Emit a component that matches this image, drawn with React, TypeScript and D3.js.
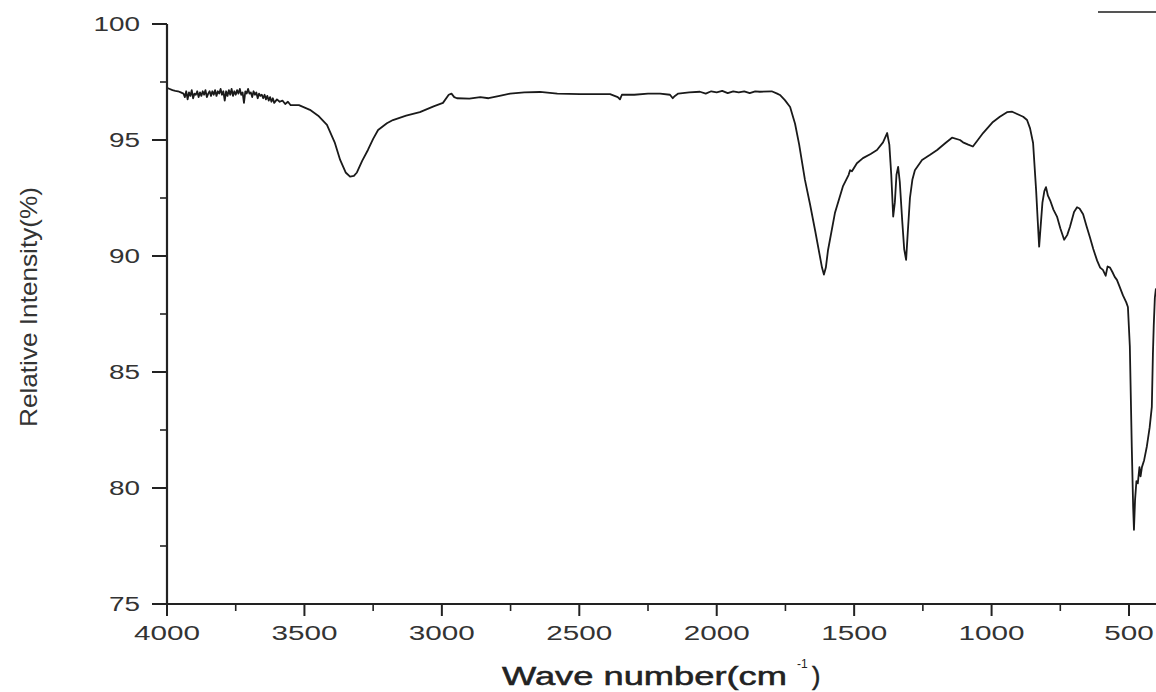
import React from "react";
import * as d3 from "d3";

// ---- data ----
const wavenumbers: number[] = [
  4000, 3990, 3980, 3970, 3960, 3950, 3940, 3935, 3930, 3925, 3920, 3915, 3910, 3905, 3900, 3895,
  3890, 3885, 3880, 3875, 3870, 3865, 3860, 3855, 3850, 3845, 3840, 3835, 3830, 3825, 3820, 3815,
  3810, 3805, 3800, 3795, 3790, 3785, 3780, 3775, 3770, 3765, 3760, 3755, 3750, 3745, 3740, 3735,
  3730, 3725, 3720, 3715, 3710, 3705, 3700, 3695, 3690, 3685, 3680, 3675, 3670, 3665, 3660, 3655,
  3650, 3645, 3640, 3635, 3630, 3625, 3620, 3615, 3610, 3600, 3590, 3580, 3570, 3560, 3550, 3520,
  3480, 3450, 3418, 3390, 3370, 3350, 3334, 3320, 3309, 3290, 3269, 3250, 3232, 3200, 3178, 3130,
  3080, 3030, 2996, 2975, 2965, 2955, 2945, 2900, 2860, 2830, 2790, 2752, 2700, 2643, 2580, 2497,
  2440, 2388, 2360, 2352, 2345, 2300, 2250, 2206, 2170, 2160, 2152, 2140, 2100, 2061, 2040, 2020,
  2000, 1980, 1960, 1940, 1920, 1900, 1880, 1860, 1843, 1800, 1780, 1770, 1752, 1733, 1715, 1700,
  1679, 1660, 1642, 1617, 1610, 1603, 1595, 1570, 1541, 1520, 1515, 1508, 1490, 1468, 1440, 1417,
  1395, 1380, 1372, 1365, 1358, 1352, 1346, 1340, 1334, 1325, 1318, 1311, 1305, 1297, 1288, 1279,
  1253, 1225, 1198, 1170, 1144, 1115, 1104, 1085, 1068, 1050, 1031, 995, 970, 944, 925, 907,
  885, 871, 860, 849, 838, 832, 827, 822, 815, 808, 802, 795, 787, 775, 762, 750,
  736, 725, 715, 700, 689, 680, 667, 655, 642, 630, 616, 605, 595, 585, 578, 569,
  560, 552, 544, 535, 522, 510, 504, 497, 490, 485, 482, 478, 473, 468, 462, 458,
  453, 445, 435, 425, 417, 413, 410, 406, 402,
];
const intensity: number[] = [
  97.25, 97.2, 97.15, 97.12, 97.1, 97.05, 97.0, 96.85, 97.1, 96.75, 97.05, 96.9, 97.15, 96.8, 97.0, 96.95,
  97.1, 96.85, 97.05, 96.9, 97.1, 96.95, 97.15, 96.85, 97.0, 97.1, 96.9, 97.1, 96.95, 97.15, 96.9, 97.1,
  97.0, 97.2, 96.95, 97.1, 96.7, 97.1, 96.9, 97.15, 96.95, 97.2, 96.9, 97.1, 96.95, 97.15, 97.0, 97.2,
  96.95, 97.05, 96.6, 97.1, 97.0, 97.2, 97.0, 97.05, 96.85, 97.1, 96.95, 97.05, 96.8, 97.0, 96.9, 96.95,
  96.8, 96.95, 96.75, 96.9, 96.7, 96.85, 96.65, 96.8, 96.6, 96.75, 96.65, 96.7, 96.55, 96.65, 96.5, 96.5,
  96.3, 96.05, 95.65, 94.9, 94.14, 93.6, 93.42, 93.45, 93.6, 94.1, 94.57, 95.05, 95.43, 95.72, 95.86, 96.05,
  96.2, 96.45, 96.6, 96.95, 97.0, 96.85, 96.8, 96.78, 96.85, 96.8, 96.9, 97.0, 97.05, 97.07, 97.0, 96.98,
  96.98, 96.98, 96.85, 96.75, 96.95, 96.95, 97.0, 97.0, 96.95, 96.8, 96.9, 97.0, 97.05, 97.08, 97.0, 97.1,
  97.05, 97.12, 97.02, 97.1, 97.05, 97.1, 97.02, 97.1, 97.08, 97.1, 97.0, 96.94, 96.72, 96.42, 95.7, 94.8,
  93.28, 92.2, 91.1, 89.5, 89.2, 89.5, 90.26, 91.85, 93.0, 93.5, 93.7, 93.65, 94.0, 94.22, 94.4, 94.57,
  94.9, 95.3, 94.8, 93.5, 91.7, 92.3, 93.5, 93.84, 93.2, 91.5, 90.3, 89.83, 91.0, 92.5, 93.3, 93.7,
  94.14, 94.35, 94.57, 94.85, 95.1, 95.0, 94.9, 94.8, 94.72, 95.0, 95.3, 95.78, 96.0, 96.2, 96.22, 96.12,
  96.0, 95.86, 95.5, 94.87, 92.84, 91.5, 90.4, 91.2, 92.3, 92.8, 92.97, 92.6, 92.4, 92.0, 91.7, 91.2,
  90.7, 90.9, 91.25, 91.9, 92.1, 92.05, 91.8, 91.3, 90.8, 90.3, 89.8, 89.5, 89.4, 89.15, 89.55, 89.5,
  89.3, 89.1, 88.97, 88.7, 88.3, 88.0, 87.8, 86.1, 81.8, 79.2, 78.2, 79.5, 80.3, 80.2, 80.9, 80.5,
  80.9, 81.2, 81.8, 82.6, 83.5, 85.8, 87.0, 88.2, 88.6,
];
const xTickValues: number[] = [4000, 3500, 3000, 2500, 2000, 1500, 1000, 500];
const xMinorTickValues: number[] = [3750, 3250, 2750, 2250, 1750, 1250, 750];
const yTickValues: number[] = [75, 80, 85, 90, 95, 100];
const yMinorTickValues: number[] = [77.5, 82.5, 87.5, 92.5, 97.5];
const xAxisTitle = "Wave number(cm";
const xAxisSup = "-1";
const yAxisTitle = "Relative Intensity(%)";

export default function App() {
  const W = 1156;
  const H = 692;
  const x = d3.scaleLinear().domain([4000, 400]).range([167, 1156.5]);
  const y = d3.scaleLinear().domain([75, 100]).range([604, 24]);
  const pts: [number, number][] = wavenumbers.map((w, i) => [w, intensity[i]]);
  const line = d3
    .line<[number, number]>()
    .x((d) => x(d[0]))
    .y((d) => y(d[1]))
    .curve(d3.curveLinear);
  const axisColor = "#222";
  const textColor = "#333";
  const font = "'Liberation Sans', Arial, sans-serif";

  return (
    <svg
      width={W}
      height={H}
      style={{ position: "absolute", left: 0, top: 0, background: "#fff" }}
    >
      <rect x={0} y={0} width={W} height={H} fill="#fff" />
      <defs>
        <clipPath id="plotclip">
          <rect x={167} y={0} width={W - 167} height={604} />
        </clipPath>
      </defs>
      {/* top-right legend stub */}
      <line x1={1098} y1={12} x2={W} y2={12} stroke="#555" strokeWidth={2} />

      {/* spectrum */}
      <path
        d={line(pts) || ""}
        fill="none"
        stroke="#1a1a1a"
        strokeWidth={1.8}
        strokeLinejoin="round"
        clipPath="url(#plotclip)"
      />

      {/* y axis */}
      <line x1={167} y1={y(100)} x2={167} y2={y(75) + 1} stroke={axisColor} strokeWidth={2.2} />
      {yTickValues.map((v) => (
        <g key={"yt" + v}>
          <line x1={152} x2={167} y1={y(v)} y2={y(v)} stroke={axisColor} strokeWidth={2} />
          <text
            x={140}
            y={y(v) + 7}
            textAnchor="end"
            fontFamily={font}
            fontSize={20}
            fill={textColor}
            textLength={String(v).length * 15.5}
            lengthAdjust="spacingAndGlyphs"
          >
            {v}
          </text>
        </g>
      ))}
      {yMinorTickValues.map((v) => (
        <line key={"ym" + v} x1={160} x2={167} y1={y(v)} y2={y(v)} stroke={axisColor} strokeWidth={1.6} />
      ))}

      {/* x axis */}
      <line x1={153} y1={604} x2={W} y2={604} stroke={axisColor} strokeWidth={2.2} />
      {xTickValues.map((v) => (
        <g key={"xt" + v}>
          <line x1={x(v)} x2={x(v)} y1={604} y2={616} stroke={axisColor} strokeWidth={2} />
          <text
            x={x(v)}
            y={640}
            textAnchor="middle"
            fontFamily={font}
            fontSize={20}
            fill={textColor}
            textLength={String(v).length * 16.5}
            lengthAdjust="spacingAndGlyphs"
          >
            {v}
          </text>
        </g>
      ))}
      {xMinorTickValues.map((v) => (
        <line key={"xm" + v} x1={x(v)} x2={x(v)} y1={604} y2={611} stroke={axisColor} strokeWidth={1.6} />
      ))}

      {/* axis titles */}
      <text
        transform={`translate(37,307) rotate(-90)`}
        textAnchor="middle"
        fontFamily={font}
        fontSize={24}
        fill={textColor}
        textLength={240}
        lengthAdjust="spacingAndGlyphs"
      >
        {yAxisTitle}
      </text>
      <text
        x={502}
        y={685}
        fontFamily={font}
        fontSize={25}
        fill="#222"
        stroke="#222"
        strokeWidth={0.5}
        textLength={285}
        lengthAdjust="spacingAndGlyphs"
      >
        {xAxisTitle}
      </text>
      <text x={797} y={668} fontFamily={font} fontSize={12} fill="#222">
        {xAxisSup}
      </text>
      <text x={812} y={685} fontFamily={font} fontSize={25} fill="#222" stroke="#222" strokeWidth={0.5}>
        )
      </text>
    </svg>
  );
}
